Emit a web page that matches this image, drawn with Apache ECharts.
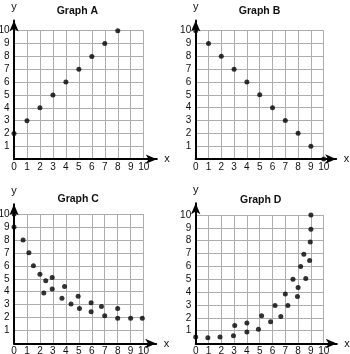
<!DOCTYPE html>
<html>
<head>
<meta charset="utf-8">
<script src="https://cdn.jsdelivr.net/npm/echarts@6/dist/echarts.min.js"></script>
<style>html,body{margin:0;padding:0;background:#fff;}#c{width:350px;height:354px;}</style>
</head>
<body>
<div id="c"></div>
<script>
// ---- data ----
const titles = ['Graph A', 'Graph B', 'Graph C', 'Graph D'];
const axisMin = 0;
const axisMax = 10;
const tickStep = 1;
const graphA = [[0,2],[1,3],[2,4],[3,5],[4,6],[5,7],[6,8],[7,9],[8,10]];
const graphB = [[0,10],[1,9],[2,8],[3,7],[4,6],[5,5],[6,4],[7,3],[8,2],[9,1],[10,0]];
const graphC = [[0,10],[0,9],[0.7,8],[1.15,7],[1.5,6],[2,5.35],[2.45,4.85],[2.95,5.1],[2.3,3.9],[2.95,4.2],
  [3.9,4.4],[3.7,3.5],[4.4,3.05],[4.95,3.65],[5.05,2.7],[5.95,3.15],[5.95,2.45],[6.75,2.85],[7,2.15],
  [8,2.7],[8,1.95],[9,1.95],[9.9,1.95]];
const graphD = [[0,0.5],[0.95,0.45],[1.9,0.5],[2.95,0.6],[3.05,1.4],[4,0.9],[4,1.6],[4.9,1.1],[5.15,2.15],
  [5.85,1.7],[6.2,2.95],[6.65,2.1],[7,3.85],[7.2,2.95],[7.6,5],[8,4.35],[7.95,3.65],[8.2,6],[8.45,6.95],
  [8.6,5.05],[8.9,6.45],[8.95,7.9],[9,8.9],[9,10]];
const datasets = [graphA, graphB, graphC, graphD];

// ---- layout ----
const mainGrids = [
  {left:14, top:30.7, width:129.7, height:128.5},
  {left:195.7, top:30.7, width:128, height:128.3},
  {left:14, top:214, width:129.6, height:129.5},
  {left:195.7, top:215, width:128, height:128.5}
];
const arrowGrids = [
  {left:14, top:20.5, width:142.8, height:138.7},
  {left:195.7, top:20.5, width:140.5, height:138.5},
  {left:14, top:204.2, width:142.2, height:139.3},
  {left:195.7, top:203.2, width:141.1, height:140.3}
];
const titlePos = [[76.7, 6], [258.8, 6], [77.5, 193.5], [260, 194.5]];

const FONT = 'Liberation Sans, Arial, sans-serif';
const grid = [], xAxis = [], yAxis = [], series = [], title = [];
for (let i = 0; i < 4; i++) {
  grid.push(Object.assign({containLabel:false, outerBoundsMode:'none'}, mainGrids[i]));
  grid.push(Object.assign({containLabel:false, outerBoundsMode:'none'}, arrowGrids[i]));
  const g = i * 2;
  xAxis.push({
    type:'value', gridIndex:g, min:axisMin, max:axisMax, interval:tickStep,
    axisLine:{show:false}, axisTick:{show:false},
    splitLine:{show:true, lineStyle:{color:'#adadad', width:1}},
    axisLabel:{show:true, fontSize:10, fontFamily:FONT, color:'#111', margin:3, showMinLabel:true, showMaxLabel:true, hideOverlap:false}
  });
  yAxis.push({
    type:'value', gridIndex:g, min:axisMin, max:axisMax, interval:tickStep,
    axisLine:{show:false}, axisTick:{show:false},
    splitLine:{show:true, lineStyle:{color:'#adadad', width:1}},
    axisLabel:{show:true, fontSize:10, fontFamily:FONT, color:'#111', margin:4.5, showMinLabel:false, showMaxLabel:true, hideOverlap:false}
  });
  xAxis.push({
    type:'value', gridIndex:g+1, min:0, max:1, name:'x', nameLocation:'end', nameGap:7.5,
    nameTextStyle:{fontSize:11, fontFamily:FONT, color:'#111', verticalAlign:'middle'},
    axisLine:{show:true, onZero:false, symbol:['none','arrow'], symbolSize:[7,11], lineStyle:{color:'#000', width:2}},
    axisTick:{show:false}, axisLabel:{show:false}, splitLine:{show:false}
  });
  yAxis.push({
    type:'value', gridIndex:g+1, min:0, max:1, name:'y', nameLocation:'end', nameGap:8,
    nameTextStyle:{fontSize:11, fontFamily:FONT, color:'#111', align:'center'},
    axisLine:{show:true, onZero:false, symbol:['none','arrow'], symbolSize:[7,11], lineStyle:{color:'#000', width:2}},
    axisTick:{show:false}, axisLabel:{show:false}, splitLine:{show:false}
  });
  series.push({
    type:'scatter', xAxisIndex:g, yAxisIndex:g, data:datasets[i], clip:false,
    symbol:'circle', symbolSize:5, itemStyle:{color:'#000'}, z:5, silent:true
  });
  title.push({
    text:titles[i], left:titlePos[i][0] - 20, top:titlePos[i][1], padding:0, textAlign:'left',
    textStyle:{fontSize:10.5, fontWeight:'bold', fontFamily:FONT, color:'#111'}
  });
}

const chart = echarts.init(document.getElementById('c'), null, {renderer:'canvas'});
chart.setOption({animation:false, backgroundColor:'#fff', title, grid, xAxis, yAxis, series});
</script>
</body>
</html>
